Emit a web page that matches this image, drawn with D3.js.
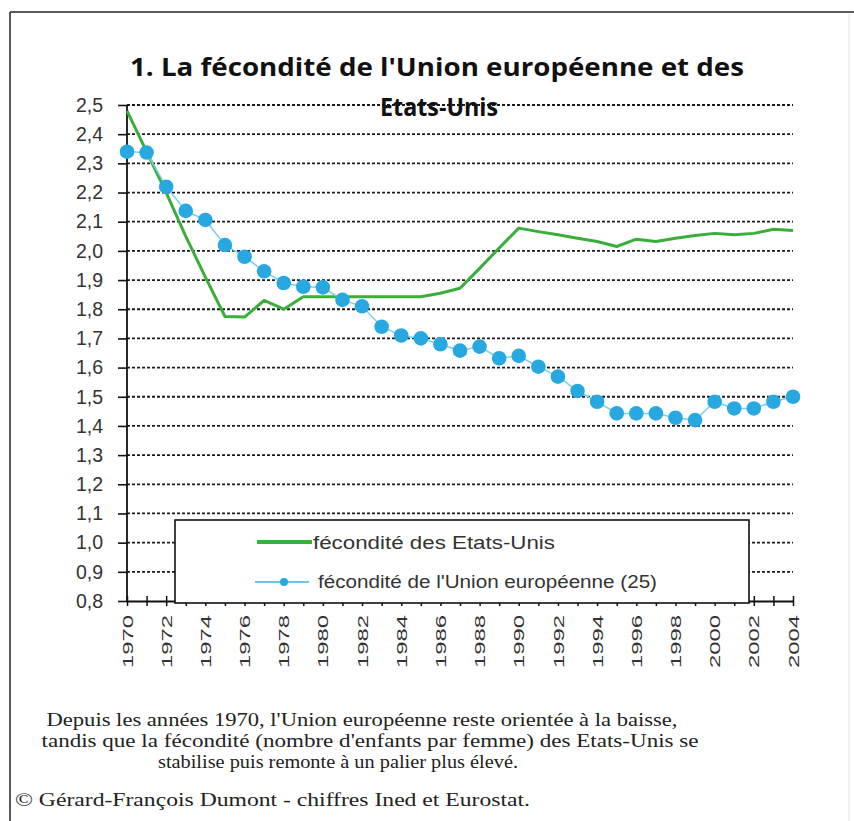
<!DOCTYPE html>
<html><head><meta charset="utf-8">
<script src="https://cdn.jsdelivr.net/npm/d3@7"></script>
<style>html,body{margin:0;padding:0;background:#fff;}svg{display:block;}</style>
</head><body>
<svg id="c" width="854" height="821"></svg>
<script>
const years = d3.range(1970, 2005);
const usValues = [2.48,2.34,2.20,2.05,1.91,1.775,1.773,1.83,1.80,1.843,1.843,1.843,1.843,1.843,1.843,1.843,1.855,1.872,1.94,2.01,2.078,2.066,2.055,2.043,2.032,2.015,2.04,2.032,2.043,2.053,2.06,2.055,2.06,2.074,2.07];
const euValues = [2.34,2.337,2.22,2.137,2.106,2.02,1.98,1.93,1.89,1.877,1.875,1.832,1.81,1.74,1.71,1.70,1.68,1.658,1.672,1.632,1.64,1.603,1.569,1.52,1.483,1.443,1.443,1.443,1.428,1.42,1.483,1.46,1.46,1.483,1.50];
const yTicks = [0.8,0.9,1.0,1.1,1.2,1.3,1.4,1.5,1.6,1.7,1.8,1.9,2.0,2.1,2.2,2.3,2.4,2.5];
const xLabelYears = d3.range(1970, 2005, 2);
const titleLines = ["1. La fécondité de l'Union européenne et des", "Etats-Unis"];
const legendLabels = ["fécondité des Etats-Unis", "fécondité de l'Union européenne (25)"];
const captionLines = ["Depuis les années 1970, l'Union européenne reste orientée à la baisse,",
  "tandis que la fécondité (nombre d'enfants par femme) des Etats-Unis se",
  "stabilise puis remonte à un palier plus élevé."];
const creditLine = "© Gérard-François Dumont - chiffres Ined et Eurostat.";

const svg = d3.select("#c");
const x = d3.scaleLinear().domain([1970, 2004]).range([127, 793]);
const y = d3.scaleLinear().domain([0.8, 2.5]).range([601, 105]);
const fmt = v => d3.format(".1f")(v).replace(".", ",");

// frame
svg.append("line").attr("x1",10).attr("x2",854).attr("y1",12).attr("y2",12).attr("stroke","#5a5a5a").attr("stroke-width",2);
svg.append("line").attr("x1",10).attr("x2",10).attr("y1",12).attr("y2",821).attr("stroke","#5a5a5a").attr("stroke-width",2);
svg.append("line").attr("x1",849).attr("x2",849).attr("y1",13).attr("y2",821).attr("stroke","#e4e4e4").attr("stroke-width",1);

// gridlines
svg.append("g").selectAll("line").data(yTicks.filter(v => v > 0.85)).join("line")
  .attr("x1", x(1970)).attr("x2", x(2004))
  .attr("y1", d => y(d)).attr("y2", d => y(d))
  .attr("stroke", "#1a1a1a").attr("stroke-width", 1.8).attr("stroke-dasharray", "3,2");

// y axis
const yAxis = svg.append("g").attr("transform", `translate(${x(1970)},0)`)
  .call(d3.axisLeft(y).tickValues(yTicks).tickFormat(fmt).tickSize(9).tickPadding(15));
yAxis.select(".domain").attr("stroke", "#111").attr("stroke-width", 1.8).attr("d", `M0,${y(2.5)}V${y(0.8)}`);
yAxis.selectAll(".tick line").attr("stroke", "#111").attr("stroke-width", 1.6);
yAxis.selectAll(".tick text").attr("font-family", "Liberation Sans, Arial, sans-serif").attr("font-size", 19.5).attr("fill", "#333");

// x axis
const xAxis = svg.append("g").attr("transform", `translate(0,${y(0.8)})`)
  .call(d3.axisBottom(x).tickValues(years).tickFormat("").tickSizeInner(5).tickSizeOuter(0));
xAxis.select(".domain").attr("stroke", "#111").attr("stroke-width", 1.8);
xAxis.selectAll(".tick line").attr("stroke", "#111").attr("stroke-width", 1.5).attr("y1", -5);

// x labels
svg.append("g").selectAll("text").data(xLabelYears).join("text")
  .attr("transform", d => `translate(${x(d)},668) rotate(-90)`)
  .attr("dy", "0.36em")
  .attr("text-anchor", "start")
  .attr("font-family", "Liberation Sans, Arial, sans-serif").attr("font-size", 15.5).attr("fill", "#333")
  .attr("textLength", 53).attr("lengthAdjust", "spacingAndGlyphs")
  .text(d => d);

// series
const green = "#3aae3a", blue = "#27a8e0";
svg.append("path").datum(years.map((yr,i)=>[yr, usValues[i]]))
  .attr("d", d3.line().x(d=>x(d[0])).y(d=>y(d[1])))
  .attr("fill","none").attr("stroke",green).attr("stroke-width",3).attr("stroke-linejoin","round");
svg.append("path").datum(years.map((yr,i)=>[yr, euValues[i]]))
  .attr("d", d3.line().x(d=>x(d[0])).y(d=>y(d[1])))
  .attr("fill","none").attr("stroke","#7ccdf0").attr("stroke-width",1.5);
svg.append("g").selectAll("circle").data(years.map((yr,i)=>[yr, euValues[i]])).join("circle")
  .attr("cx", d=>x(d[0])).attr("cy", d=>y(d[1])).attr("r", 7.3).attr("fill", blue);

// legend
const lg = svg.append("g");
lg.append("rect").attr("x",175).attr("y",520).attr("width",574).attr("height",83)
  .attr("fill","#fff").attr("stroke","#111").attr("stroke-width",1.6);
lg.append("line").attr("x1",257).attr("x2",312).attr("y1",542).attr("y2",542).attr("stroke",green).attr("stroke-width",4);
lg.append("line").attr("x1",255).attr("x2",309).attr("y1",582).attr("y2",582).attr("stroke","#3db0e0").attr("stroke-width",1.5);
lg.append("circle").attr("cx",284).attr("cy",582).attr("r",4).attr("fill",blue);
const legendPos = [[313,549,242],[318,588,339]];
lg.selectAll("text").data(legendLabels).join("text")
  .attr("x",(d,i)=>legendPos[i][0]).attr("y",(d,i)=>legendPos[i][1])
  .attr("textLength",(d,i)=>legendPos[i][2]).attr("lengthAdjust","spacingAndGlyphs")
  .attr("font-family","Liberation Sans, Arial, sans-serif").attr("font-size",18).attr("fill","#333")
  .text(d=>d);

// title
const titlePos = [[437,76,614],[439,116,118]];
svg.append("g").selectAll("text").data(titleLines).join("text")
  .attr("x",(d,i)=>titlePos[i][0]).attr("y",(d,i)=>titlePos[i][1])
  .attr("text-anchor","middle")
  .attr("textLength",(d,i)=>titlePos[i][2]).attr("lengthAdjust","spacingAndGlyphs")
  .attr("font-family","Open Sans, Lato, sans-serif").attr("font-weight","bold").attr("font-size",25).attr("fill","#111")
  .text(d=>d);

// caption
const capPos = [[362,726,631],[370,747,657],[338,768,360]];
svg.append("g").selectAll("text").data(captionLines).join("text")
  .attr("x",(d,i)=>capPos[i][0]).attr("y",(d,i)=>capPos[i][1])
  .attr("text-anchor","middle")
  .attr("textLength",(d,i)=>capPos[i][2]).attr("lengthAdjust","spacingAndGlyphs")
  .attr("font-family","Liberation Serif, Times New Roman, serif").attr("font-size",18).attr("fill","#222")
  .text(d=>d);
svg.append("text").attr("x",15).attr("y",806).attr("textLength",515).attr("lengthAdjust","spacingAndGlyphs")
  .attr("font-family","Liberation Serif, Times New Roman, serif").attr("font-size",18).attr("fill","#222")
  .text(creditLine);
</script>
</body></html>
